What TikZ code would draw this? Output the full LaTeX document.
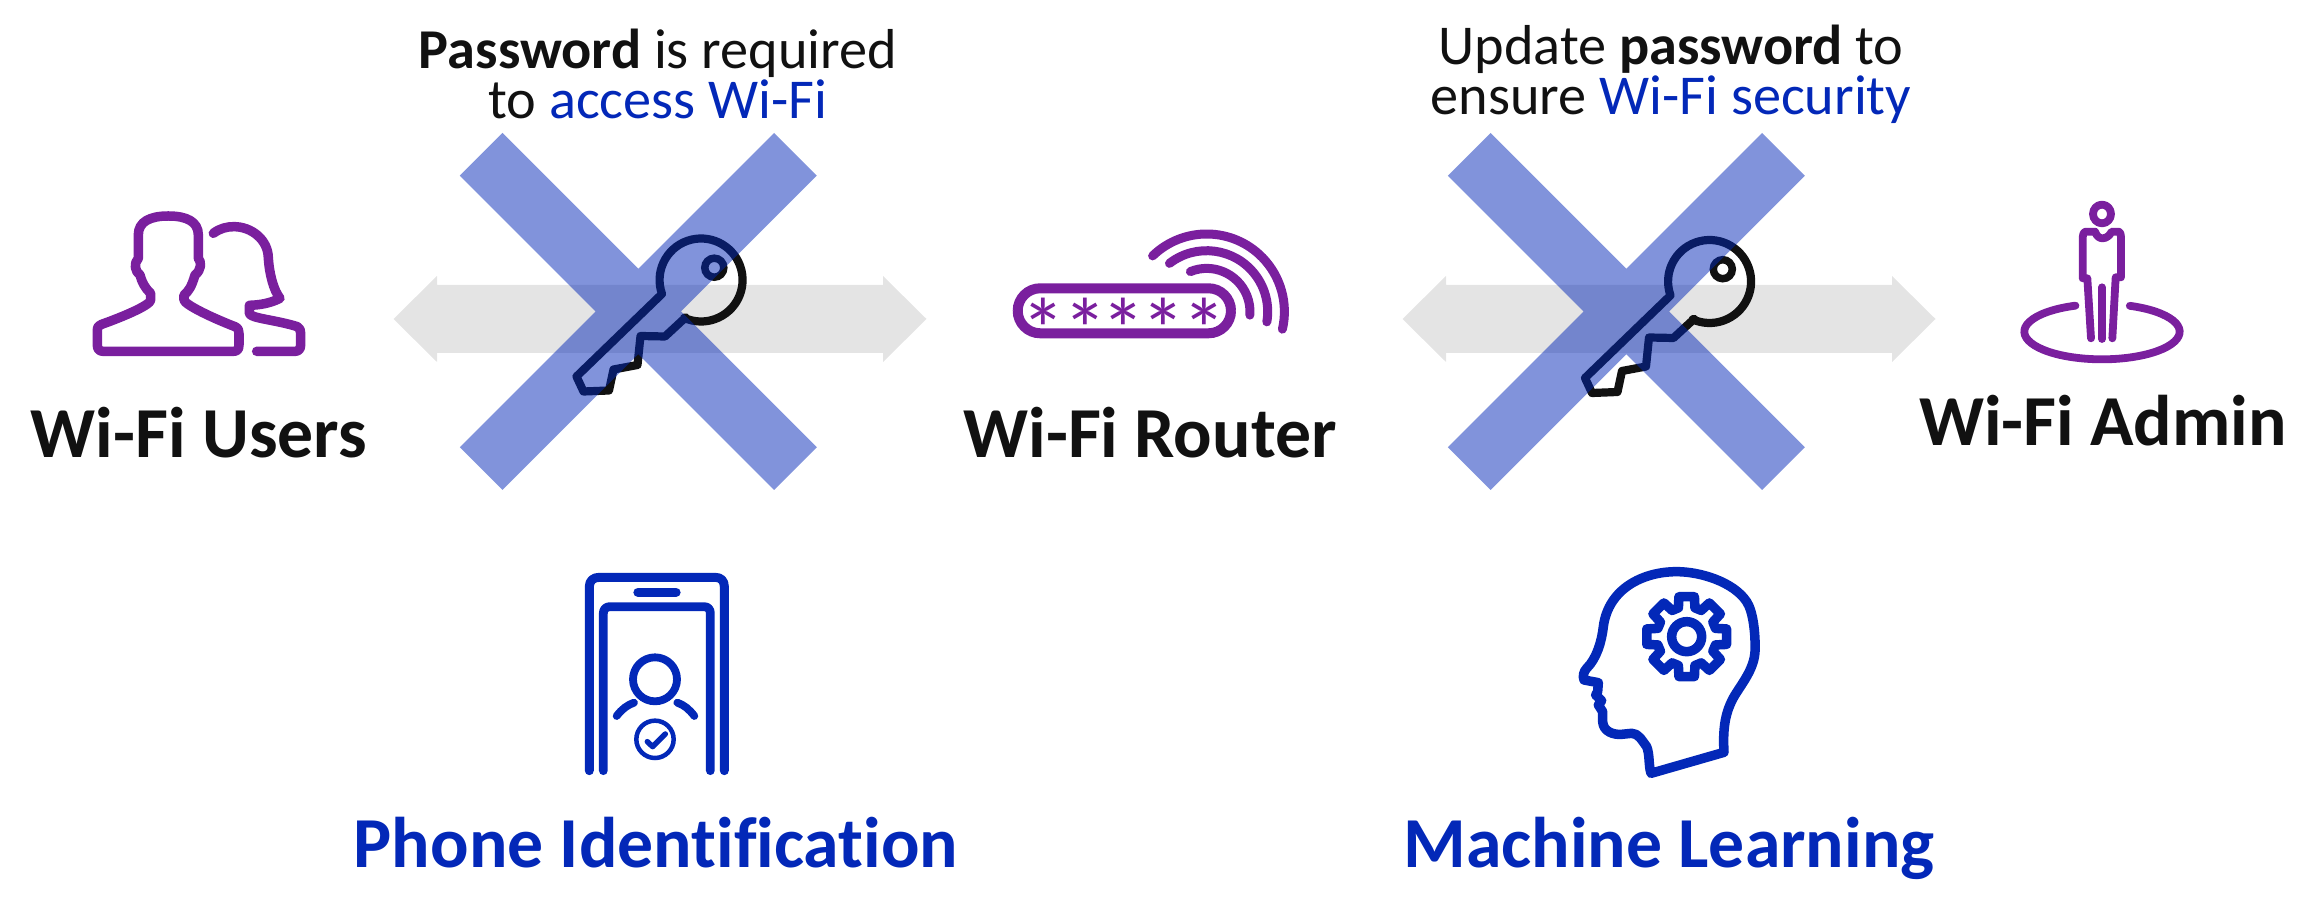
\documentclass[tikz,border=0pt]{standalone}
\usepackage{fontspec}
\setmainfont{Carlito}[Ligatures=NoCommon]
\definecolor{wfpurple}{HTML}{7A1F9E}
\definecolor{wfblue}{HTML}{0328B8}
\definecolor{wfblack}{HTML}{111111}
\definecolor{wfgray}{HTML}{E4E4E4}
\newcommand{\smalltext}{\fontsize{16pt}{14.2pt}\selectfont}
\newcommand{\bigtext}{\fontsize{20.4pt}{24pt}\selectfont\bfseries}
\tikzset{
  iconline/.style={line width=.095cm, line cap=round, line join=round},
  keyline/.style={line width=.082cm, line cap=round, line join=round},
  thinline/.style={line width=.078cm, line cap=round, line join=round},
  toplabel/.style={font=\smalltext, text=wfblack, align=center, inner sep=0pt},
  biglabel/.style={font=\bigtext, text=wfblack, anchor=base, inner sep=0pt},
  bluelabel/.style={biglabel, text=wfblue}
}

\begin{document}
\begin{tikzpicture}[x=.01cm,y=-.01cm]
  \useasboundingbox (0,0) rectangle (2320,910);

  % arrows, keys and crosses
  \foreach \ax/\kx/\ky/\cx in {660/702.5/279.5/638.3, 1669/1711/281/1626.3}
    {
      \fill[wfgray] (\ax-266.5,319) -- (\ax-223,276) -- (\ax-223,285) -- (\ax+223,285)
        -- (\ax+223,276) -- (\ax+266.5,319) -- (\ax+223,362) -- (\ax+223,353)
        -- (\ax-223,353) -- (\ax-223,362) -- cycle;
      \begin{scope}[shift={(\kx,\ky)}]
        \draw[wfblack, keyline] (114:41.5) -- (-37.5,57) -- (-62,56.5)
          -- (-65,85.5) -- (-89,90) -- (-93.5,111) -- (-119,112) -- (-126,97) -- (160.4:43)
          arc (160.4:474:41.5) -- cycle;
        \draw[wfblack, line width=.075cm] (11.8,-11.8) circle (9.5);
      \end{scope}
      \fill[wfblue, opacity=.5] (\cx-135.8,133) -- (\cx,268.8) -- (\cx+135.8,133)
        -- (\cx+178.5,175.7) -- (\cx+42.7,311.5) -- (\cx+178.5,447.3) -- (\cx+135.8,490)
        -- (\cx,354.2) -- (\cx-135.8,490) -- (\cx-178.5,447.3) -- (\cx-42.7,311.5)
        -- (\cx-178.5,175.7) -- cycle;
    }

  % users
  \begin{scope}[shift={(60,180)},scale=1/3]
    \draw[wfpurple, iconline] (235,230) -- (235,165) .. controls (235,125) and (270,108) .. (325,108)
      .. controls (380,108) and (415,125) .. (415,165) -- (415,235)
      .. controls (425,245) and (425,270) .. (405,285) .. controls (395,320) and (385,335) .. (372,345)
      -- (372,360) .. controls (375,375) and (460,415) .. (525,440) .. controls (535,445) and (537,450) .. (537,460)
      -- (537,495) .. controls (537,510) and (530,514) .. (520,514) -- (130,514)
      .. controls (118,514) and (112,508) .. (112,495) -- (112,450) .. controls (112,440) and (118,435) .. (125,433)
      .. controls (190,410) and (272,375) .. (272,360) -- (272,340) .. controls (255,325) and (245,305) .. (240,285)
      .. controls (225,275) and (220,250) .. (235,235) -- cycle;
    \draw[wfpurple, iconline] (460,160) .. controls (480,145) and (500,140) .. (522,140)
      .. controls (575,140) and (625,180) .. (625,235) .. controls (628,280) and (640,330) .. (660,355)
      .. controls (630,370) and (600,375) .. (568,376) -- (568,400) .. controls (570,415) and (650,420) .. (712,440)
      .. controls (720,445) and (722,450) .. (722,460) -- (722,495) .. controls (722,508) and (715,514) .. (705,514)
      -- (590,514);
  \end{scope}

  % router
  \draw[wfpurple, line width=.1cm, rounded corners=.225cm] (1017.7,288.3) rectangle (1231,333.3);
  \foreach \i/\x in {1/1043.3,2/1085,3/1123.3,4/1163.3,5/1204.3}
    {
      \node (star\i) at (\x,329) [text=wfpurple, inner sep=0pt, font=\fontsize{25pt}{25pt}\selectfont] {*};
    }
  \foreach \r/\a/\b in {77.7/225.9/373, 61/232.4/369.6, 43.3/247.9/364.5}
    {
      \draw[wfpurple, line width=.09cm, line cap=round] (1206.7,311.7) ++(\a:\r) arc (\a:\b:\r);
    }

  % admin
  \begin{scope}[shift={(1980,180)},scale=1/3]
    \draw[wfpurple, thinline] (366,102) ellipse (27 and 28);
    \draw[wfpurple, thinline] (333,475) -- (322,295) -- (308,295) -- (308,180) .. controls (308,165) and (310,155) .. (318,155)
      -- (345,155) .. controls (350,170) and (360,175) .. (368,175) .. controls (380,175) and (390,165) .. (395,155)
      -- (415,155) .. controls (422,155) and (423,165) .. (423,180) -- (423,292) -- (407,292) -- (397,475);
    \draw[wfpurple, thinline] (366,322) -- (366,477);
    \draw[wfpurple, thinline] (366,455) ++(291:233 and 83) arc (291:610:233 and 83);
  \end{scope}

  % phone
  \begin{scope}[shift={(560,560)},scale=1/3]
    \draw[wfblue, line width=.09cm, line cap=round, line join=round] (88,632) -- (88,80)
      .. controls (88,62) and (100,52) .. (118,52) -- (465,52) .. controls (483,52) and (493,62) .. (493,80) -- (493,632);
    \draw[wfblue, line width=.088cm, line cap=round, line join=round] (130,632) -- (130,160)
      .. controls (130,148) and (138,140) .. (150,140) -- (432,140) .. controls (444,140) and (451,148) .. (451,160) -- (451,632);
    \draw[wfblue, line width=.093cm, line cap=round] (234,97) -- (348,97);
    \draw[wfblue, thinline] (285,358) circle (66);
    \draw[wfblue, thinline] (222,428) .. controls (202,435) and (185,448) .. (170,468);
    \draw[wfblue, thinline] (352,428) .. controls (372,435) and (388,448) .. (403,468);
    \draw[wfblue, line width=.045cm] (285,538) circle (56);
    \draw[wfblue, line width=.055cm, line cap=round, line join=round] (262,545) -- (278,560) -- (316,522);
  \end{scope}

  % head
  \begin{scope}[shift={(1550,555)},scale=1/3]
    \draw[wfblue, iconline] (303,655) -- (522,592) .. controls (518,520) and (525,470) .. (555,420)
      .. controls (580,380) and (612,340) .. (615,290) .. controls (617,240) and (610,170) .. (590,140)
      .. controls (550,80) and (450,50) .. (380,50) .. controls (280,50) and (175,100) .. (160,215)
      .. controls (155,260) and (140,310) .. (110,340) .. controls (100,350) and (98,365) .. (102,375)
      -- (145,383) -- (143,410) -- (137,420) -- (155,437) -- (145,450) -- (158,470) -- (158,500)
      .. controls (160,530) and (190,540) .. (215,538) -- (245,535) .. controls (265,535) and (275,555) .. (290,575)
      .. controls (300,600) and (295,630) .. (303,655) -- cycle;
    \begin{scope}[shift={(410,245)}]
      \draw[wfblue, iconline] (-16:90) \foreach \a in {0,45,...,315}
        { -- (\a-11:122) -- (\a+11:122) -- (\a+16:90) -- (\a+29:90) } -- cycle;
      \draw[wfblue, iconline] (0,0) circle (45);
    \end{scope}
  \end{scope}

  % labels
  \node (topleft) at (658,74) [toplabel] {\textbf{Password} is required\\to \textcolor{wfblue}{access Wi-Fi}};
  \node (topright) at (1671,74) [toplabel] {Update \textbf{password} to\\ensure \textcolor{wfblue}{Wi-Fi security}};
  \node (users) at (199,458) [biglabel] {Wi-Fi Users};
  \node (router) at (1150,458) [biglabel] {Wi-Fi Router};
  \node (admin) at (2103,446) [biglabel] {Wi-Fi Admin};
  \node (phone) at (656,868) [bluelabel] {Phone Identification};
  \node (learning) at (1669,868) [bluelabel] {Machine Learning};
\end{tikzpicture}
\end{document}
